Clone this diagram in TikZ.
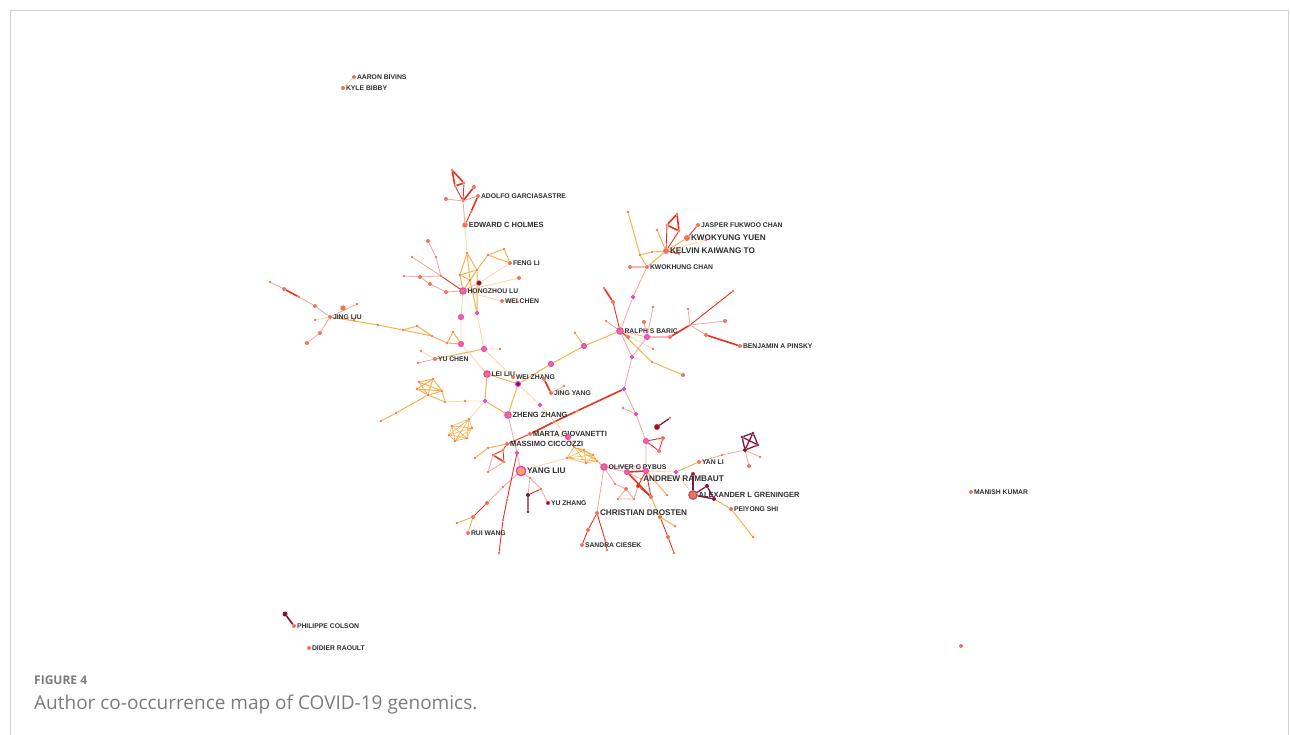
\documentclass[tikz,border=0pt]{standalone}
\usepackage{fontspec}
\usetikzlibrary{backgrounds}
\newfontfamily\lblfamily{Liberation Sans}
\newfontfamily\capfamily{Open Sans}

\definecolor{eorange}{HTML}{F8B24C}
\definecolor{elight}{HTML}{FCD7A0}
\definecolor{ered}{HTML}{E8321E}
\definecolor{epink}{HTML}{F5A59C}
\definecolor{emaroon}{HTML}{861437}
\definecolor{nsalm}{HTML}{F2735C}
\definecolor{nmag}{HTML}{E23BE6}
\definecolor{txtgray}{HTML}{2E2E2E}
\definecolor{capgray}{HTML}{7B7B7B}
\definecolor{framegray}{HTML}{D2D2D2}

\tikzset{
  nd/.style={circle,inner sep=0pt,minimum size=4pt,fill=nsalm},
  tn/.style={nd,minimum size=2.6pt},
  mg/.style={nd,draw=nmag,line width=1pt,minimum size=5pt},
  bg/.style={mg,fill=eorange!80!nsalm,minimum size=7pt,line width=1.3pt},
  dk/.style={nd,fill=emaroon},
  lbl/.style={font=\lblfamily\bfseries\fontsize{6.8}{7}\selectfont,text=txtgray,inner sep=0.6pt},
  lblm/.style={lbl,font=\lblfamily\bfseries\fontsize{7.5}{8}\selectfont},
  lblb/.style={lbl,font=\lblfamily\bfseries\fontsize{8.2}{9}\selectfont},
  eo/.style={draw=eorange,line width=1pt},
  el/.style={draw=elight,line width=0.8pt},
  er/.style={draw=ered,line width=0.9pt},
  et/.style={draw=ered,line width=1.6pt},
  ep/.style={draw=epink,line width=0.8pt},
  em/.style={draw=emaroon,line width=1.3pt}
}

\begin{document}
\begin{tikzpicture}[x=1pt,y=-1pt]
  \useasboundingbox (0,0) rectangle (1290,735);
  \draw[framegray,line width=0.8pt] (10,735) -- (10,10) -- (1288,10) -- (1288,735);

  % isolated authors
  \node[nd,label={[lbl]right:AARON BIVINS}] (bivins) at (354,77) {};
  \node[nd,label={[lbl]right:KYLE BIBBY}] (bibby) at (343,88) {};
  \node[dk,minimum size=5pt] (colson0) at (285,614) {};
  \node[nd,label={[lbl]right:PHILIPPE COLSON}] (colson) at (294,626) {};
  \node[nd,label={[lbl]right:DIDIER RAOULT}] (raoult) at (309,648) {};
  \node[nd,label={[lbl]right:MANISH KUMAR}] (kumar) at (971,492) {};
  \node[nd] (lone) at (961,646) {};

  % top cluster
  \node[tn] (t1) at (452,170) {};
  \node[tn] (t2) at (464,183) {};
  \node[tn] (t3) at (455,186) {};
  \node[tn] (h1) at (463,201) {};
  \node[nd] (n1) at (474,187) {};
  \node[nd] (n2) at (446,199) {};
  \node[nd,label={[lbl]right:ADOLFO GARCIASASTRE}] (garcia) at (478,196) {};
  \node[tn] (n3) at (471,212) {};
  \node[nd,minimum size=5.5pt,label={[lblm]right:EDWARD C HOLMES}] (holmes) at (465,225) {};

  % hongzhou cluster
  \node[tn] (a1) at (467,253) {};
  \node[tn] (a2) at (460,275) {};
  \node[tn] (a3) at (477,270) {};
  \node[tn] (a4) at (470,280) {};
  \node[tn] (f1) at (488,255) {};
  \node[tn] (f2) at (504,249) {};
  \node[nd,label={[lbl]right:FENG LI}] (fengli) at (510,263) {};
  \node[nd] (b1) at (519,278) {};
  \node[dk,draw=nsalm,minimum size=5pt] (a8) at (479,283) {};
  \node[mg,minimum size=6.5pt,label={[lbl]right:HONGZHOU LU}] (hongzhou) at (463,291) {};
  \node[nd,label={[lbl]right:WEI CHEN}] (weichen) at (502,301) {};
  \node[tn] (b2) at (518,302) {};
  \node[mg,minimum size=3.5pt] (b3) at (477,313) {};
  \node[mg] (m1) at (461,317) {};
  \node[mg] (m2) at (461,344) {};
  \node[mg] (m3) at (484,349) {};
  \node[tn] (b4) at (500,349) {};
  \node[tn] (r1) at (441,276) {};
  \node[tn] (r2) at (436,257) {};
  \node[nd] (r3) at (428,241) {};
  \node[nd] (r4) at (420,277) {};
  \node[tn] (r5) at (404,276) {};
  \node[tn] (r6) at (412,257) {};
  \node[nd] (r7) at (430,284) {};
  \node[nd] (r8) at (446,292) {};

  % jing liu branch
  \node[tn] (j1) at (270,282) {};
  \node[nd] (j2) at (284,289) {};
  \node[tn] (j3) at (299,297) {};
  \node[nd] (j4) at (315,306) {};
  \node[nd,label={[lbl]right:JING LIU}] (jingliu) at (330,317) {};
  \node[nd,minimum size=5.5pt] (j5) at (343,308) {};
  \node[tn] (j6) at (357,304) {};
  \node[tn] (j7) at (354,320) {};
  \node[nd] (j8) at (320,333) {};
  \node[nd] (j9) at (307,343) {};
  \node[tn] (j10) at (315,320) {};
  \node[tn] (o1) at (378,325) {};
  \node[tn] (o2) at (403,330) {};
  \node[tn] (o3) at (417,326) {};
  \node[tn] (o4) at (432,336) {};
  \node[tn] (o5) at (447,343) {};
  \node[tn] (o6) at (453,332) {};

  % middle
  \node[nd,label={[lbl]right:YU CHEN}] (yuchen) at (435,359) {};
  \node[tn] (y1) at (421,351) {};
  \node[tn] (y2) at (418,363) {};
  \node[mg,minimum size=6.5pt,label={[lbl]right:LEI LIU}] (leiliu) at (487,374) {};
  \node[nd,label={[lbl]right:WEI ZHANG}] (weizhang) at (513,377) {};
  \node[mg,fill=emaroon] (wz2) at (518,384) {};
  \node[mg] (c1) at (551,364) {};
  \node[mg] (c2) at (584,346) {};
  \node[tn] (c3) at (575,333) {};
  \node[nd,label={[lbl]right:JING YANG}] (jingyang) at (551,393) {};
  \node[nd] (jy1) at (544,379) {};
  \node[tn] (jy2) at (564,386) {};
  \node[mg,minimum size=3.5pt] (jy3) at (540,405) {};
  \node[mg,minimum size=6.5pt,label={[lblm]right:ZHENG ZHANG}] (zheng) at (508,415) {};
  \node[mg,minimum size=3.5pt] (k1) at (485,401) {};
  \node[tn] (s5) at (465,401) {};
  \node[tn] (sa) at (419,382) {};
  \node[tn] (sb) at (433,379) {};
  \node[tn] (sc) at (442,391) {};
  \node[tn] (sd) at (428,395) {};
  \node[tn] (se) at (445,402) {};
  \node[tn] (sf) at (417,389) {};
  \node[tn] (s0) at (381,421) {};
  \node[tn] (s00) at (396,413) {};
  \node[tn] (mA) at (469,419) {};
  \node[tn] (mB) at (452,426) {};
  \node[tn] (mC) at (449,435) {};
  \node[tn] (mD) at (455,441) {};
  \node[tn] (mE) at (467,438) {};
  \node[tn] (mF) at (472,428) {};
  \node[mg,minimum size=3.5pt] (z1) at (517,453) {};
  \node[tn] (z2) at (507,500) {};
  \node[tn] (z3) at (503,520) {};
  \node[tn] (z4) at (499,553) {};
  \node[nd,label={[lblm]right:MARTA GIOVANETTI}] (marta) at (530,434) {};
  \node[tn] (mr1) at (554,422) {};
  \node[tn] (mr2) at (577,411) {};
  \node[mg,minimum size=3.5pt] (mr3) at (624,389) {};
  \node[nd,label={[lblm]right:MASSIMO CICCOZZI}] (massimo) at (507,444) {};
  \node[tn] (ms1) at (488,448) {};
  \node[tn] (ms2) at (475,458) {};
  \node[tn] (q1) at (493,455) {};
  \node[tn] (q2) at (503,450) {};
  \node[tn] (q3) at (504,462) {};
  \node[tn] (q4) at (488,472) {};
  \node[mg] (mg1) at (568,437) {};
  \node[tn] (pA) at (567,458) {};
  \node[tn] (pB) at (574,447) {};
  \node[tn] (pC) at (584,450) {};
  \node[tn] (pD) at (593,455) {};
  \node[tn] (pE) at (597,461) {};
  \node[tn] (pF) at (586,463) {};
  \node[bg,minimum size=9.5pt,label={[lblb]right:YANG LIU}] (yangliu) at (521,471) {};
  \node[tn] (y3) at (503,487) {};
  \node[nd] (y4) at (487,503) {};
  \node[nd] (y5) at (473,517) {};
  \node[nd,label={[lbl]right:RUI WANG}] (ruiwang) at (468,533) {};
  \node[tn] (y6) at (457,523) {};
  \node[tn] (yt1) at (530,478) {};
  \node[dk] (yt2) at (528,495) {};
  \node[tn] (yt3) at (541,489) {};
  \node[tn,fill=emaroon] (yt4) at (528,512) {};
  \node[dk,draw=nsalm,label={[lbl]right:YU ZHANG}] (yuzhang) at (548,503) {};

  % oliver / drosten
  \node[mg,minimum size=6.5pt,label={[lbl]right:OLIVER G PYBUS}] (oliver) at (604,467) {};
  \node[tn,fill=nmag!60] (pyb) at (640,466) {};
  \node[mg] (ol1) at (627,472) {};
  \node[mg] (ol2) at (646,471) {};
  \node[nd] (ol3) at (651,497) {};
  \node[nd,fill=ered] (ol4) at (638,486) {};
  \node[tn,label={[lblb]right:ANDREW RAMBAUT}] (rambaut) at (641,479) {};
  \node[tn] (tr1) at (618,499) {};
  \node[tn] (tr2) at (634,499) {};
  \node[nd] (tr3) at (626,489) {};
  \node[tn] (ol8) at (667,495) {};
  \node[mg] (ol9) at (646,441) {};
  \node[nd] (ol10) at (663,438) {};
  \node[nd] (ol11) at (659,451) {};
  \node[dk,draw=ered,minimum size=5.5pt] (ol12) at (657,427) {};
  \node[tn] (ol13) at (670,418) {};
  \node[mg,minimum size=3.5pt] (ol14) at (636,414) {};
  \node[tn] (ol15) at (623,408) {};
  \node[tn] (cd1) at (615,484) {};
  \node[nd,label={[lblb]right:CHRISTIAN DROSTEN}] (christian) at (597,513) {};
  \node[nd] (cd3) at (588,530) {};
  \node[nd,label={[lbl]right:SANDRA CIESEK}] (sandra) at (582,545) {};
  \node[tn] (cd4) at (605,540) {};
  \node[tn] (cd5) at (607,550) {};
  \node[nd] (cd6) at (660,517) {};
  \node[nd] (cd7) at (668,537) {};
  \node[tn] (cd8) at (674,553) {};
  \node[tn] (cd9) at (675,526) {};

  % greninger / yan li
  \node[mg,minimum size=3.5pt] (an1) at (676,472) {};
  \node[nd,label={[lbl]right:YAN LI}] (yanli) at (699,462) {};
  \node[tn] (yl1) at (722,455) {};
  \node[tn,fill=emaroon] (d1) at (742,437) {};
  \node[tn,fill=emaroon] (d2) at (753,433) {};
  \node[tn,fill=emaroon] (d3) at (758,445) {};
  \node[dk] (d4) at (745,450) {};
  \node[nd] (dp1) at (749,466) {};
  \node[tn] (dp2) at (760,457) {};
  \node[bg,fill=nsalm,draw=emaroon!70,minimum size=8.5pt,label={[lblm]right:ALEXANDER L GRENINGER}] (greninger) at (693,495) {};
  \node[dk,draw=nsalm] (gr1) at (693,474) {};
  \node[dk] (gr2) at (707,486) {};
  \node[dk] (gr3) at (714,499) {};
  \node[nd,label={[lbl]right:PEIYONG SHI}] (peiyong) at (731,509) {};
  \node[tn] (ps1) at (753,537) {};

  % ralph baric
  \node[mg,minimum size=6.5pt,label={[lbl]right:RALPH S BARIC}] (ralph) at (620,331) {};
  \node[nd] (rb1) at (628,337) {};
  \node[mg] (rb2) at (647,337) {};
  \node[nd] (rb3) at (670,337) {};
  \node[tn] (rb4) at (690,325) {};
  \node[tn] (rb5) at (688,309) {};
  \node[tn] (rb6) at (733,291) {};
  \node[nd] (rb8) at (725,321) {};
  \node[nd] (rb9) at (706,335) {};
  \node[nd,label={[lbl]right:BENJAMIN A PINSKY}] (benjamin) at (740,346) {};
  \node[mg,minimum size=3.5pt] (rb10) at (632,357) {};
  \node[tn] (rb11) at (652,362) {};
  \node[nd] (rb12) at (683,375) {};
  \node[tn] (rb13) at (653,349) {};
  \node[tn] (rb14) at (653,307) {};
  \node[nd] (rb15) at (644,322) {};
  \node[tn] (rb16) at (606,321) {};
  \node[nd] (rb17) at (613,302) {};
  \node[tn] (rb18) at (604,288) {};
  \node[mg,minimum size=3.5pt] (kc1) at (633,297) {};

  % kelvin to
  \node[nd,label={[lbl]right:KWOKHUNG CHAN}] (kwokhung) at (647,267) {};
  \node[nd] (kc2) at (630,267) {};
  \node[nd,minimum size=6pt,label={[lblb]right:KELVIN KAIWANG TO}] (kelvin) at (666,251) {};
  \node[nd,minimum size=6pt,label={[lblb]right:KWOKYUNG YUEN}] (kwokyung) at (687,238) {};
  \node[nd,label={[lbl]right:JASPER FUKWOO CHAN}] (jasper) at (698,225) {};
  \node[tn] (kc3) at (679,254) {};
  \node[tn] (kt1) at (667,225) {};
  \node[tn] (kt2) at (677,214) {};
  \node[tn] (kt3) at (679,231) {};
  \node[tn] (kc4) at (628,212) {};
  \node[tn] (kc5) at (640,255) {};
  \node[tn] (kc6) at (652,252) {};
  \node[tn] (kc7) at (657,230) {};
  \node[tn] (kc9) at (706,240) {};

  \begin{pgfonlayer}{background}
  % light orange links
  \begin{scope}[el]
    \draw (bivins) -- (bibby);
    \draw (holmes) -- (a1) (hongzhou) -- (weichen) (hongzhou) -- (b1) (a8) -- (fengli);
    \draw (hongzhou) -- (m1) (m1) -- (m2) (b3) -- (m3) (m3) -- (b4) (weichen) -- (b2);
    \draw (jingliu) -- (j10) (jingliu) -- (j7) (yuchen) -- (y1) (m2) -- (leiliu) (m3) -- (weizhang);
    \draw (wz2) -- (jy3) (jy3) -- (mg1) (marta) -- (mg1) (yangliu) -- (pA);
    \draw (se) -- (s5) (s5) -- (k1) (mA) -- (k1) (ralph) -- (rb13);
    \draw (ol2) -- (an1) (an1) -- (greninger) (kelvin) -- (kc9) (pyb) -- (ol2);
  \end{scope}

  % orange links
  \begin{scope}[eo]
    \draw (a1) -- (a2) (a1) -- (a3) (a1) -- (a4) (a2) -- (a3) (a2) -- (a4);
    \draw (a2) -- (hongzhou) (a3) -- (hongzhou) (a4) -- (hongzhou) (a3) -- (f1);
    \draw (f1) -- (f2) (f2) -- (fengli) (fengli) -- (f1) (b3) -- (a4) (b3) -- (a3);
    \draw (jingliu) -- (o1) (o1) -- (o2) (o2) -- (o3) (o3) -- (o4) (o4) -- (o2);
    \draw (o4) -- (o5) (o5) -- (o6) (o6) -- (m2) (o5) -- (m2);
    \draw (yuchen) -- (m3) (leiliu) -- (wz2) (wz2) -- (c1) (c1) -- (c2) (c2) -- (ralph) (c2) -- (c3);
    \draw (leiliu) -- (k1) (k1) -- (zheng) (wz2) -- (zheng);
    \draw (s0) -- (s00) (s00) -- (sd) (sa) -- (sb) (sa) -- (sc) (sa) -- (sd) (sb) -- (sc) (sb) -- (sd);
    \draw (sc) -- (sd) (sc) -- (se) (sd) -- (se) (sf) -- (sb) (sf) -- (sc) (sf) -- (sd);
    \draw[line width=0.6pt] (mA) -- (mB) (mA) -- (mC) (mA) -- (mD) (mA) -- (mE) (mA) -- (mF)
      (mB) -- (mC) (mB) -- (mD) (mB) -- (mE) (mB) -- (mF) (mC) -- (mD) (mC) -- (mE)
      (mC) -- (mF) (mD) -- (mE) (mD) -- (mF) (mE) -- (mF);
    \draw[line width=0.6pt] (pA) -- (pB) (pA) -- (pC) (pA) -- (pD) (pA) -- (pE) (pA) -- (pF)
      (pB) -- (pC) (pB) -- (pD) (pB) -- (pE) (pB) -- (pF) (pC) -- (pD) (pC) -- (pE)
      (pC) -- (pF) (pD) -- (pE) (pD) -- (pF) (pE) -- (pF);
    \draw (pE) -- (oliver) (mg1) -- (pB) (massimo) -- (ms1) (ms1) -- (ms2);
    \draw (y5) -- (ruiwang) (y5) -- (y6) (ralph) -- (rb11) (rb11) -- (rb12);
    \draw (ol3) -- (cd6) (cd6) -- (cd9) (ol2) -- (ol8) (an1) -- (yanli);
    \draw (gr3) -- (peiyong) (peiyong) -- (ps1);
    \draw (kelvin) -- (kwokyung) (kc4) -- (kc5) (kc5) -- (kwokhung) (kc5) -- (kc6);
    \draw (kc6) -- (kelvin) (kc7) -- (kelvin) (kwokhung) -- (kelvin);
  \end{scope}

  % pink links
  \begin{scope}[ep]
    \draw (n2) -- (h1) (garcia) -- (h1) (h1) -- (holmes);
    \draw (r1) -- (r2) (r2) -- (r3) (r1) -- (r4) (r4) -- (r5) (r6) -- (r1) (r4) -- (r7);
    \draw (r7) -- (r8) (r8) -- (hongzhou) (hongzhou) -- (a8);
    \draw (j1) -- (j2) (j3) -- (j4) (j4) -- (jingliu) (jingliu) -- (j6) (jingliu) -- (j8) (j8) -- (j9);
    \draw (y2) -- (yuchen) (jingyang) -- (jy2) (zheng) -- (z1) (z1) -- (yangliu);
    \draw (yangliu) -- (y3) (y3) -- (y4) (yangliu) -- (yt1) (yt1) -- (yt2) (yt1) -- (yt3) (yt3) -- (yuzhang);
    \draw (q1) -- (q4) (q4) -- (q3);
    \draw (oliver) -- (ol1) (oliver) -- (christian) (oliver) -- (cd1) (cd1) -- (tr3) (oliver) -- (pyb);
    \draw (tr1) -- (tr2) (tr2) -- (tr3) (tr3) -- (tr1) (ol4) -- (tr2) (rambaut) -- (ol1);
    \draw (ol2) -- (ol9) (ol9) -- (ol14) (ol14) -- (mr3) (ol14) -- (ol15);
    \draw (mr3) -- (rb10) (rb10) -- (ralph) (rb10) -- (rb2) (ralph) -- (rb2);
    \draw (rb2) -- (rb14) (rb2) -- (rb15) (ralph) -- (rb16) (rb4) -- (rb5) (rb4) -- (rb8) (rb4) -- (rb9);
    \draw (ralph) -- (kc1) (kc1) -- (kwokhung);
    \draw (yanli) -- (yl1) (yl1) -- (d4) (d4) -- (dp1) (d4) -- (dp2);
  \end{scope}

  % red links
  \begin{scope}[er]
    \draw (h1) -- (t2) (h1) -- (t3) (n3) -- (holmes) (hongzhou) -- (r1);
    \draw (z1) -- (z2) (z2) -- (z3) (z3) -- (z4);
    \draw (massimo) -- (q2) (q2) -- (q3) (q1) -- (q2) (marta) -- (massimo);
    \draw (y4) -- (y5) (yt2) -- (yt3);
    \draw (ol2) -- (ol4) (ol4) -- (ol3) (ol2) -- (ol3) (ol9) -- (ol10) (ol10) -- (ol11) (ol11) -- (ol9);
    \draw (christian) -- (cd3) (cd3) -- (sandra) (christian) -- (cd4) (cd4) -- (cd5);
    \draw (cd6) -- (cd7) (cd7) -- (cd8);
    \draw (ralph) -- (rb1) (rb2) -- (rb3) (rb4) -- (rb6) (ralph) -- (rb17);
    \draw (kc2) -- (kwokhung) (kwokyung) -- (jasper) (kelvin) -- (kc3) (kelvin) -- (kt1) (kelvin) -- (kt3);
  \end{scope}

  % thick red links
  \begin{scope}[et]
    \draw (t1) -- (t2) (t2) -- (t3) (t3) -- (t1) (n1) -- (h1) (garcia) -- (n3);
    \draw (j2) -- (j3) (jy1) -- (jingyang) (q1) -- (q3);
    \draw (marta) -- (mr1) (mr1) -- (mr2) (mr2) -- (mr3);
    \draw (ol1) -- (ol2) (ol1) -- (ol3);
    \draw (kt1) -- (kt2) (kt2) -- (kt3) (kt3) -- (kt1);
    \draw (rb17) -- (rb18) (rb3) -- (rb4) (rb9) -- (benjamin);
  \end{scope}

  % maroon links
  \begin{scope}[em]
    \draw[line width=1.7pt] (colson0) -- (colson);
    \draw (d1) -- (d2) (d2) -- (d3) (d3) -- (d4) (d4) -- (d1) (d1) -- (d3) (d2) -- (d4);
    \draw (ol12) -- (ol13) (yt2) -- (yt4);
    \draw[line width=1.7pt] (greninger) -- (gr1);
    \draw (greninger) -- (gr2) (gr2) -- (gr3) (greninger) -- (gr3);
  \end{scope}
  \end{pgfonlayer}

  % caption
  \node[anchor=base west,inner sep=0pt,text=capgray,font=\capfamily\bfseries\fontsize{12}{14}\selectfont] (fig) at (34,684) {FIGURE 4};
  \node[anchor=base west,inner sep=0pt,text=capgray,font=\capfamily\fontsize{19}{22}\selectfont] (cap) at (34,709) {Author co-occurrence map of COVID-19 genomics.};
\end{tikzpicture}
\end{document}
